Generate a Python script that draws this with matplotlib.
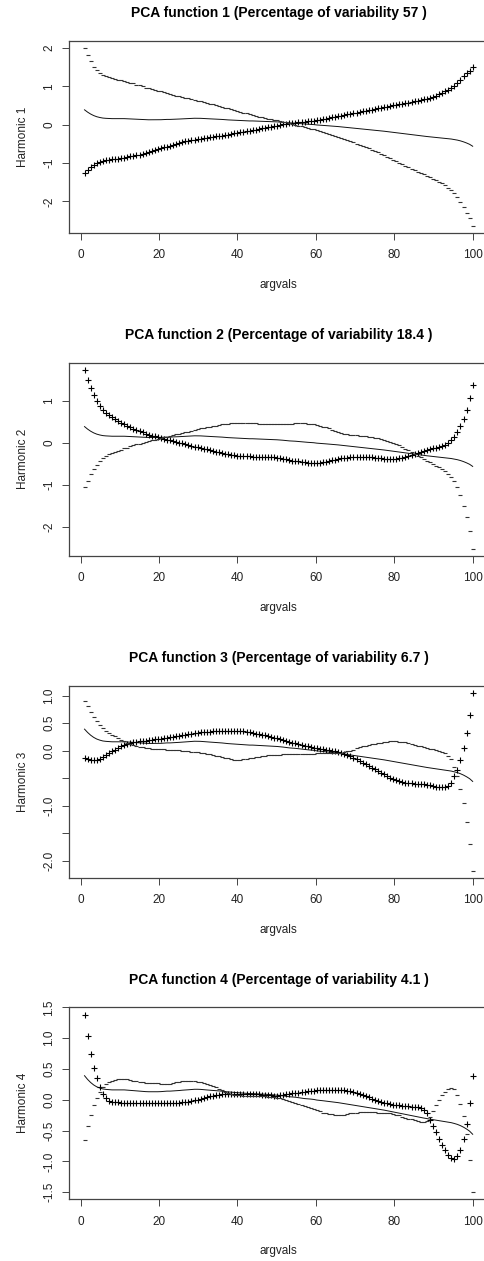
import numpy as np
import matplotlib.pyplot as plt

plt.rcParams['font.family'] = ['Liberation Sans', 'DejaVu Sans']
plt.rcParams['axes.unicode_minus'] = False

# evaluation grid (128 points between 1 and 100)
argvals = np.linspace(1, 100, 128)

# mean function (solid line, same in every panel)
mean_curve = [
    0.39, 0.33, 0.28, 0.24, 0.21, 0.19, 0.175, 0.168, 0.164, 0.16,
    0.16, 0.16, 0.16, 0.16, 0.156, 0.152, 0.148, 0.144, 0.14, 0.136,
    0.132, 0.13, 0.13, 0.13, 0.13, 0.132, 0.136, 0.14, 0.14, 0.143,
    0.146, 0.15, 0.155, 0.158, 0.162, 0.166, 0.17, 0.17, 0.168, 0.163,
    0.159, 0.155, 0.151, 0.147, 0.143, 0.139, 0.132, 0.127, 0.123, 0.119,
    0.115, 0.111, 0.107, 0.103, 0.1, 0.1, 0.097, 0.093, 0.09, 0.09,
    0.086, 0.083, 0.079, 0.075, 0.07, 0.064, 0.056, 0.049, 0.045, 0.041,
    0.034, 0.027, 0.019, 0.015, 0.011, 0.005, -0.005, -0.01, -0.016, -0.022,
    -0.028, -0.034, -0.04, -0.047, -0.055, -0.063, -0.071, -0.079, -0.087, -0.095,
    -0.103, -0.111, -0.119, -0.127, -0.134, -0.142, -0.15, -0.159, -0.168, -0.178,
    -0.188, -0.198, -0.208, -0.218, -0.228, -0.238, -0.248, -0.258, -0.268, -0.278,
    -0.288, -0.297, -0.306, -0.315, -0.323, -0.331, -0.339, -0.347, -0.355, -0.363,
    -0.372, -0.385, -0.4, -0.42, -0.445, -0.475, -0.51, -0.56]

# harmonic 1: mean + pc ("+") and mean - pc ("-")
plus_1 = [
    -1.26, -1.17, -1.1, -1.05, -1.0, -0.97, -0.95, -0.93, -0.915, -0.9,
    -0.89, -0.885, -0.875, -0.86, -0.84, -0.825, -0.81, -0.795, -0.78, -0.755,
    -0.735, -0.71, -0.685, -0.66, -0.64, -0.615, -0.59, -0.57, -0.545, -0.52,
    -0.5, -0.475, -0.45, -0.435, -0.42, -0.405, -0.39, -0.375, -0.36, -0.345,
    -0.34, -0.325, -0.315, -0.305, -0.295, -0.28, -0.27, -0.26, -0.24, -0.225,
    -0.21, -0.2, -0.19, -0.175, -0.16, -0.145, -0.13, -0.11, -0.095, -0.08,
    -0.065, -0.05, -0.035, -0.02, -0.002, 0.013, 0.03, 0.043, 0.05, 0.058,
    0.066, 0.073, 0.081, 0.089, 0.096, 0.11, 0.122, 0.13, 0.145, 0.16,
    0.175, 0.19, 0.21, 0.225, 0.24, 0.255, 0.27, 0.285, 0.3, 0.32,
    0.335, 0.35, 0.365, 0.38, 0.395, 0.41, 0.425, 0.44, 0.46, 0.475,
    0.49, 0.505, 0.52, 0.535, 0.55, 0.565, 0.58, 0.595, 0.61, 0.63,
    0.645, 0.66, 0.68, 0.705, 0.73, 0.76, 0.79, 0.83, 0.87, 0.92,
    0.97, 1.02, 1.09, 1.17, 1.26, 1.34, 1.41, 1.51]
minus_1 = [
    2.0, 1.81, 1.66, 1.52, 1.42, 1.35, 1.29, 1.26, 1.24, 1.22,
    1.2, 1.18, 1.16, 1.14, 1.12, 1.1, 1.08, 1.05, 1.03, 1.0,
    0.97, 0.95, 0.93, 0.91, 0.89, 0.87, 0.845, 0.82, 0.8, 0.78,
    0.76, 0.74, 0.72, 0.705, 0.69, 0.67, 0.65, 0.63, 0.61, 0.59,
    0.57, 0.55, 0.53, 0.51, 0.49, 0.47, 0.45, 0.43, 0.41, 0.39,
    0.365, 0.345, 0.32, 0.3, 0.28, 0.255, 0.235, 0.21, 0.19, 0.175,
    0.16, 0.145, 0.13, 0.115, 0.1, 0.08, 0.06, 0.045, 0.025, 0.0,
    -0.02, -0.04, -0.06, -0.08, -0.1, -0.12, -0.14, -0.16, -0.185, -0.21,
    -0.23, -0.255, -0.28, -0.31, -0.34, -0.37, -0.4, -0.43, -0.46, -0.49,
    -0.52, -0.55, -0.58, -0.615, -0.645, -0.68, -0.715, -0.75, -0.79, -0.83,
    -0.87, -0.91, -0.95, -0.99, -1.03, -1.07, -1.11, -1.15, -1.185, -1.22,
    -1.26, -1.295, -1.33, -1.37, -1.41, -1.445, -1.485, -1.524, -1.58, -1.646,
    -1.714, -1.79, -1.89, -2.01, -2.15, -2.29, -2.43, -2.63]

# harmonic 2
plus_2 = [
    1.744, 1.504, 1.312, 1.144, 1.008, 0.888, 0.784, 0.71, 0.66, 0.61,
    0.565, 0.52, 0.48, 0.44, 0.405, 0.37, 0.335, 0.305, 0.28, 0.25,
    0.225, 0.2, 0.175, 0.155, 0.135, 0.115, 0.095, 0.08, 0.065, 0.05,
    0.03, 0.01, -0.005, -0.025, -0.045, -0.065, -0.085, -0.105, -0.12, -0.14,
    -0.155, -0.17, -0.19, -0.205, -0.225, -0.24, -0.255, -0.27, -0.28, -0.29,
    -0.3, -0.31, -0.315, -0.32, -0.322, -0.325, -0.328, -0.33, -0.33, -0.33,
    -0.335, -0.34, -0.345, -0.35, -0.365, -0.38, -0.395, -0.41, -0.42, -0.43,
    -0.44, -0.45, -0.46, -0.47, -0.475, -0.48, -0.48, -0.47, -0.46, -0.445,
    -0.43, -0.415, -0.4, -0.385, -0.37, -0.36, -0.35, -0.34, -0.335, -0.33,
    -0.33, -0.33, -0.335, -0.34, -0.345, -0.35, -0.36, -0.37, -0.38, -0.385,
    -0.39, -0.39, -0.385, -0.37, -0.355, -0.335, -0.315, -0.295, -0.27, -0.245,
    -0.22, -0.2, -0.17, -0.15, -0.13, -0.11, -0.09, -0.07, -0.04, 0.0,
    0.06, 0.14, 0.26, 0.4, 0.57, 0.79, 1.07, 1.39]
minus_2 = [
    -1.04, -0.9, -0.75, -0.63, -0.53, -0.44, -0.37, -0.31, -0.27, -0.24,
    -0.21, -0.19, -0.16, -0.13, -0.11, -0.08, -0.055, -0.035, -0.015, 0.005,
    0.02, 0.04, 0.06, 0.08, 0.1, 0.115, 0.135, 0.15, 0.17, 0.185,
    0.205, 0.22, 0.24, 0.255, 0.27, 0.29, 0.305, 0.325, 0.345, 0.36,
    0.375, 0.39, 0.4, 0.415, 0.43, 0.44, 0.45, 0.46, 0.47, 0.475,
    0.48, 0.48, 0.478, 0.475, 0.472, 0.47, 0.465, 0.46, 0.455, 0.45,
    0.45, 0.45, 0.45, 0.45, 0.452, 0.455, 0.458, 0.46, 0.462, 0.464,
    0.465, 0.465, 0.464, 0.462, 0.455, 0.445, 0.43, 0.41, 0.39, 0.37,
    0.345, 0.32, 0.295, 0.27, 0.245, 0.225, 0.21, 0.195, 0.185, 0.18,
    0.17, 0.165, 0.155, 0.145, 0.135, 0.125, 0.11, 0.095, 0.075, 0.05,
    0.025, 0.0, -0.03, -0.06, -0.1, -0.14, -0.18, -0.22, -0.26, -0.3,
    -0.34, -0.38, -0.42, -0.46, -0.5, -0.54, -0.58, -0.63, -0.68, -0.74,
    -0.82, -0.92, -1.06, -1.24, -1.5, -1.77, -2.11, -2.52]

# harmonic 3
plus_3 = [
    -0.13, -0.16, -0.175, -0.178, -0.17, -0.15, -0.12, -0.085, -0.05, -0.015,
    0.02, 0.05, 0.08, 0.1, 0.125, 0.14, 0.15, 0.16, 0.17, 0.175,
    0.18, 0.19, 0.2, 0.205, 0.21, 0.215, 0.225, 0.235, 0.245, 0.255,
    0.265, 0.27, 0.28, 0.29, 0.3, 0.305, 0.315, 0.32, 0.33, 0.335,
    0.34, 0.345, 0.35, 0.355, 0.36, 0.362, 0.364, 0.365, 0.365, 0.364,
    0.36, 0.355, 0.35, 0.34, 0.33, 0.32, 0.31, 0.3, 0.29, 0.275,
    0.265, 0.25, 0.235, 0.22, 0.205, 0.19, 0.175, 0.16, 0.145, 0.13,
    0.12, 0.105, 0.09, 0.075, 0.065, 0.055, 0.045, 0.035, 0.025, 0.015,
    0.005, -0.005, -0.015, -0.03, -0.045, -0.06, -0.08, -0.1, -0.13, -0.16,
    -0.19, -0.22, -0.25, -0.28, -0.31, -0.34, -0.37, -0.4, -0.43, -0.46,
    -0.49, -0.515, -0.535, -0.55, -0.565, -0.58, -0.59, -0.595, -0.6, -0.605,
    -0.61, -0.615, -0.62, -0.63, -0.64, -0.655, -0.665, -0.67, -0.66, -0.64,
    -0.58, -0.47, -0.345, -0.165, 0.05, 0.32, 0.655, 1.05]
minus_3 = [
    0.91, 0.81, 0.71, 0.61, 0.53, 0.47, 0.41, 0.36, 0.32, 0.29,
    0.26, 0.23, 0.2, 0.17, 0.145, 0.12, 0.1, 0.085, 0.07, 0.06,
    0.05, 0.042, 0.036, 0.032, 0.028, 0.025, 0.022, 0.018, 0.015, 0.012,
    0.008, 0.004, -0.002, -0.01, -0.016, -0.022, -0.028, -0.034, -0.04, -0.048,
    -0.058, -0.068, -0.08, -0.092, -0.103, -0.115, -0.128, -0.14, -0.152, -0.162,
    -0.165, -0.163, -0.158, -0.15, -0.14, -0.13, -0.12, -0.11, -0.1, -0.092,
    -0.085, -0.079, -0.075, -0.073, -0.072, -0.07, -0.068, -0.066, -0.064, -0.062,
    -0.06, -0.058, -0.056, -0.055, -0.054, -0.053, -0.052, -0.051, -0.05, -0.049,
    -0.048, -0.046, -0.044, -0.042, -0.04, -0.03, -0.015, 0.0, 0.02, 0.04,
    0.06, 0.075, 0.09, 0.105, 0.115, 0.125, 0.135, 0.145, 0.155, 0.162,
    0.168, 0.17, 0.17, 0.165, 0.158, 0.148, 0.135, 0.12, 0.105, 0.09,
    0.075, 0.06, 0.045, 0.035, 0.025, 0.015, 0.0, -0.02, -0.05, -0.09,
    -0.16, -0.29, -0.46, -0.69, -0.95, -1.29, -1.7, -2.18]

# harmonic 4
plus_4 = [
    1.38, 1.037, 0.745, 0.518, 0.345, 0.2, 0.095, 0.027, -0.015, -0.035,
    -0.042, -0.044, -0.045, -0.046, -0.046, -0.046, -0.047, -0.047, -0.048, -0.048,
    -0.049, -0.05, -0.05, -0.05, -0.05, -0.05, -0.05, -0.05, -0.049, -0.048,
    -0.047, -0.046, -0.043, -0.038, -0.032, -0.022, -0.01, 0.003, 0.016, 0.03,
    0.045, 0.058, 0.068, 0.076, 0.082, 0.087, 0.091, 0.094, 0.096, 0.097,
    0.097, 0.096, 0.095, 0.094, 0.093, 0.092, 0.09, 0.088, 0.085, 0.082,
    0.078, 0.072, 0.066, 0.065, 0.07, 0.078, 0.087, 0.095, 0.103, 0.11,
    0.117, 0.124, 0.13, 0.136, 0.142, 0.147, 0.152, 0.156, 0.16, 0.162,
    0.163, 0.164, 0.164, 0.163, 0.16, 0.155, 0.148, 0.138, 0.125, 0.11,
    0.092, 0.075, 0.058, 0.04, 0.02, 0.0, -0.015, -0.03, -0.045, -0.058,
    -0.07, -0.078, -0.085, -0.092, -0.098, -0.103, -0.108, -0.113, -0.118, -0.124,
    -0.132, -0.16, -0.22, -0.33, -0.43, -0.53, -0.63, -0.73, -0.82, -0.89,
    -0.94, -0.955, -0.92, -0.81, -0.63, -0.39, -0.05, 0.378]
minus_4 = [
    -0.65, -0.425, -0.24, -0.08, 0.035, 0.125, 0.2, 0.25, 0.285, 0.31,
    0.325, 0.333, 0.335, 0.335, 0.33, 0.322, 0.31, 0.3, 0.29, 0.282,
    0.276, 0.272, 0.27, 0.268, 0.265, 0.262, 0.26, 0.259, 0.262, 0.27,
    0.282, 0.293, 0.3, 0.305, 0.308, 0.308, 0.305, 0.295, 0.285, 0.272,
    0.255, 0.235, 0.215, 0.2, 0.18, 0.155, 0.12, 0.11, 0.1, 0.085,
    0.075, 0.07, 0.068, 0.066, 0.064, 0.062, 0.06, 0.058, 0.056, 0.054,
    0.05, 0.047, 0.043, 0.035, 0.025, 0.012, 0.0, -0.02, -0.035, -0.05,
    -0.065, -0.08, -0.095, -0.11, -0.13, -0.15, -0.17, -0.19, -0.21, -0.222,
    -0.23, -0.237, -0.242, -0.244, -0.244, -0.24, -0.232, -0.222, -0.212, -0.207,
    -0.205, -0.205, -0.205, -0.205, -0.205, -0.206, -0.208, -0.21, -0.212, -0.214,
    -0.217, -0.225, -0.24, -0.255, -0.272, -0.29, -0.305, -0.32, -0.335, -0.35,
    -0.362, -0.365, -0.35, -0.28, -0.18, -0.08, 0.0, 0.07, 0.13, 0.17,
    0.195, 0.17, 0.08, -0.07, -0.27, -0.56, -0.98, -1.5]

pct_var = [57, 18.4, 6.7, 4.1]
plus_list = [plus_1, plus_2, plus_3, plus_4]
minus_list = [minus_1, minus_2, minus_3, minus_4]

x_ticks = [0, 20, 40, 60, 80, 100]
y_ticks = [
    [-2, -1, 0, 1, 2],
    [-2, -1, 0, 1],
    [-2.0, -1.5, -1.0, -0.5, 0.0, 0.5, 1.0],
    [-1.5, -1.0, -0.5, 0.0, 0.5, 1.0, 1.5],
]
y_labels = [
    ['-2', '-1', '0', '1', '2'],
    ['-2', '-1', '0', '1'],
    ['-2.0', '', '-1.0', '', '0.0', '0.5', '1.0'],
    ['-1.5', '-1.0', '-0.5', '0.0', '0.5', '1.0', '1.5'],
]

W, H = 485, 1261
fig = plt.figure(figsize=(W / 100, H / 100), dpi=100)

# box top / bottom of each panel in pixels
box_px = [(41, 232.7), (362.7, 555.7), (685.7, 877.7), (1007.3, 1199.3)]
left_px, right_px = 69, 488.2

for k in range(4):
    top, bot = box_px[k]
    ax = fig.add_axes([left_px / W, 1 - bot / H, (right_px - left_px) / W, (bot - top) / H])

    ax.plot(argvals, mean_curve, color='#111111', lw=0.7)
    ax.plot(argvals, plus_list[k], ls='none', marker='+', ms=4.4, mew=0.8, color='black')
    ax.plot(argvals, minus_list[k], ls='none', marker='_', ms=2.4, mew=0.8, color='#333333')
    ax.margins(0.04)

    ax.set_xticks(x_ticks)
    ax.set_xticklabels([str(t) for t in x_ticks])
    ax.set_yticks(y_ticks[k])
    ax.set_yticklabels(y_labels[k], rotation=90, va='center')

    for s in ax.spines.values():
        s.set_color('#444444')
        s.set_linewidth(0.9)
    ax.tick_params(direction='out', length=5, width=0.7, color='#444444',
                   labelsize=8.5, labelcolor='#222222', pad=5)
    ax.tick_params(axis='x', pad=7)

    ax.set_title('PCA function %d (Percentage of variability %s )' % (k + 1, pct_var[k]),
                 fontsize=10, fontweight='bold', pad=17)
    ax.set_xlabel('argvals', fontsize=8.5, labelpad=12.5, color='#222222')
    ax.set_ylabel('Harmonic %d' % (k + 1), fontsize=8.5, labelpad=10.5, color='#222222')

fig.savefig('out.png', dpi=100)
